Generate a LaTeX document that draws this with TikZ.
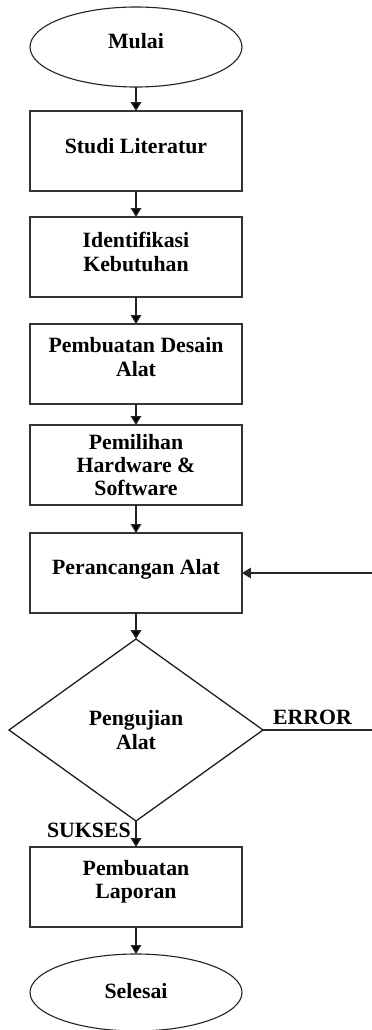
\documentclass[tikz,border=0pt]{standalone}
\usepackage{fontspec}
\setmainfont{Liberation Serif}
\usetikzlibrary{shapes.geometric,positioning,arrows.meta}
\tikzset{
	>={Triangle[length=2.2mm,width=2.6mm]}, % filled arrow heads
	node distance=0.65cm, % usual gap between two steps
	every node/.style={font=\bfseries\fontsize{15.5}{16.5}\selectfont, align=center}, % bold serif text
	proses/.style={rectangle, draw=black!80, line width=1.2pt, minimum width=5.3cm, minimum height=2cm, text width=5.3cm, align=flush center, inner sep=0pt, outer sep=0pt}, % one step
	terminal/.style={ellipse, draw=black!85, line width=0.8pt, minimum width=5.3cm, minimum height=2cm, inner sep=0pt, outer sep=0pt}, % start and end
	keputusan/.style={diamond, draw=black!90, line width=0.9pt, minimum width=6.35cm, minimum height=4.55cm, inner sep=0pt, outer sep=0pt}, % the test
	naik/.style={execute at end node={\par\vspace*{#1}}}, % text a little above the middle
	naik/.default=0.25cm,
	panah/.style={line width=0.9pt, draw=black!85}, % connectors
}

\begin{document}
\begin{tikzpicture}
	\useasboundingbox (0,0) rectangle (9.3,-25.75);
	\node[terminal,text depth=0.3cm] (mulai) at (3.4,-1.175) {Mulai};
	\node[proses,naik,below=0.6cm of mulai] (studi) {Studi Literatur};
	\node[proses,naik,below=of studi] (identifikasi) {Identifikasi\\Kebutuhan};
	\node[proses,naik=0.35cm,below=0.675cm of identifikasi] (desain) {Pembuatan Desain\\Alat};
	\node[proses,below=0.525cm of desain] (pemilihan) {Pemilihan\\Hardware \&\\Software};
	\node[proses,naik=0.2cm,below=0.7cm of pemilihan] (perancangan) {Perancangan Alat};
	\node[keputusan,below=of perancangan] (pengujian) {Pengujian\\Alat};
	\node[proses,naik,below=of pengujian] (laporan) {Pembuatan\\Laporan};
	\node[terminal,text depth=0.1cm,below=0.675cm of laporan,minimum height=1.925cm] (selesai) {Selesai};
	\coordinate[right=2.75cm of pengujian.east] (balik);
	
	\draw[->,panah] (mulai) edge (studi)
		(studi) edge (identifikasi)
		(identifikasi) edge (desain)
		(desain) edge (pemilihan)
		(pemilihan) edge (perancangan)
		(perancangan) edge (pengujian)
		(pengujian) edge node[left,pos=0.35]{SUKSES} (laporan)
		(laporan) edge (selesai);
	\draw[->,panah] (pengujian.east) -- node[above,pos=0.45]{ERROR} (balik) |- (perancangan.east);
\end{tikzpicture}
\end{document}
